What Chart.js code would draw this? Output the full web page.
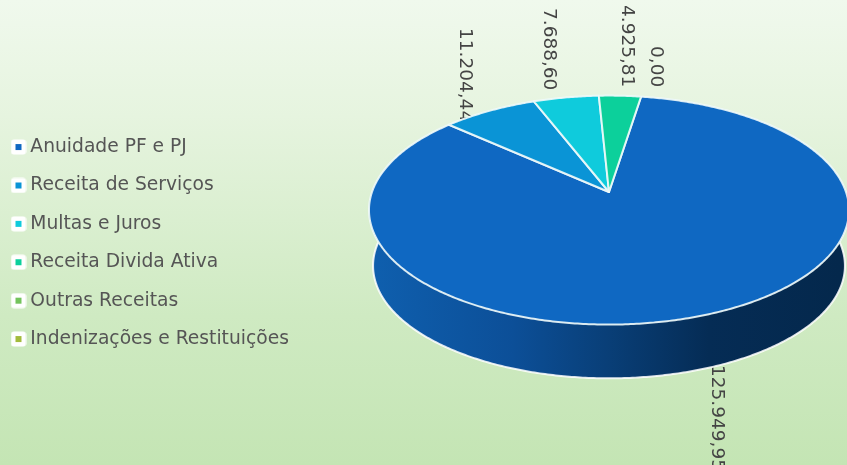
<!DOCTYPE html>
<html>
<head>
<meta charset="utf-8">
<script src="https://cdn.jsdelivr.net/npm/chart.js@4"></script>
<style>
  html, body { margin: 0; padding: 0; }
  body { width: 847px; height: 465px; overflow: hidden; background: linear-gradient(180deg, #f0f9ed 0%, #e6f4df 25%, #cfeac2 68%, #c4e5b4 100%); }
  #wrap { position: relative; width: 847px; height: 465px; }
</style>
</head>
<body>
<div id="wrap"><canvas id="pieChart"></canvas></div>
<script>
const categories = ['Anuidade PF e PJ', 'Receita de Serviços', 'Multas e Juros', 'Receita Divida Ativa', 'Outras Receitas', 'Indenizações e Restituições'];
const receitas = [125949.95, 11204.44, 7688.60, 4925.81, 0, 0];
const valueLabels = ['125.949,95', '11.204,44', '7.688,60', '4.925,81', '0,00'];
const sliceColors = ['#0f68c2', '#0a94d6', '#0fcbdc', '#0cd09b', '#73c35c', '#a3bb3c'];

// perspective of the top face
const persp = 0.158;
const tilt = 0.471;
const depth = 56;
const bottomScale = 0.983;

function project(arc, a, down, scale) {
  const k = 1 - persp * Math.sin(a);
  const r = arc.outerRadius * scale;
  return {
    x: arc.x + r * Math.cos(a) / k,
    y: arc.y + down + r * tilt * Math.sin(a) / k
  };
}

function traceRim(ctx, arc, from, to, down, scale) {
  const steps = Math.max(2, Math.ceil(Math.abs(to - from) / 0.01));
  for (let i = 0; i <= steps; i++) {
    const p = project(arc, from + (to - from) * i / steps, down, scale);
    ctx.lineTo(p.x, p.y);
  }
}

// legend marker: white rounded box with the colour in the middle
function legendBox(color) {
  const c = document.createElement('canvas');
  c.width = 16; c.height = 16;
  const g = c.getContext('2d');
  g.fillStyle = '#fff';
  g.beginPath();
  g.roundRect(0.5, 0.5, 15, 15, 3);
  g.fill();
  g.fillStyle = color;
  g.fillRect(5, 5, 6, 6);
  return c;
}

// where each value label starts
const labelSpots = [[717, 365], [465, 28], [549, 8], [627, 5], [656, 46]];

const pie3d = {
  id: 'pie3d',
  afterLayout(chart) {
    chart.legend.left = -3.7;
    chart.legend.right = 320;
    chart.legend.top = 118;
    chart.legend.bottom = 440;
  },
  beforeDatasetsDraw(chart) {
    const ctx = chart.ctx;
    const arcs = chart.getDatasetMeta(0).data;
    const first = arcs[0];
    ctx.save();

    // value labels, rotated, the pie covers them where they meet
    ctx.fillStyle = '#444';
    ctx.font = '18.5px "DejaVu Sans"';
    ctx.textBaseline = 'middle';
    labelSpots.forEach((s, i) => {
      ctx.save();
      ctx.translate(s[0], s[1]);
      ctx.rotate(Math.PI / 2);
      ctx.textAlign = 'left';
      ctx.fillText(valueLabels[i], 0, 0);
      ctx.restore();
    });

    // side wall
    const grad = ctx.createLinearGradient(372, 0, 840, 0);
    grad.addColorStop(0, '#0f5fae');
    grad.addColorStop(0.3, '#0c4f98');
    grad.addColorStop(0.5, '#093f78');
    grad.addColorStop(0.72, '#052c55');
    grad.addColorStop(1, '#04284c');
    ctx.beginPath();
    traceRim(ctx, first, -0.05, Math.PI + 0.05, 0, 1);
    traceRim(ctx, first, Math.PI + 0.05, -0.05, depth, bottomScale);
    ctx.closePath();
    ctx.fillStyle = grad;
    ctx.fill();
    ctx.strokeStyle = 'rgba(255,255,255,0.85)';
    ctx.lineWidth = 2;
    ctx.beginPath();
    traceRim(ctx, first, -0.05, Math.PI + 0.05, depth, bottomScale);
    ctx.stroke();

    // top face, one wedge per arc
    arcs.forEach((arc, i) => {
      if (arc.endAngle - arc.startAngle < 0.0001) return;
      ctx.beginPath();
      ctx.moveTo(arc.x, arc.y);
      traceRim(ctx, arc, arc.startAngle, arc.endAngle, 0, 1);
      ctx.closePath();
      ctx.fillStyle = sliceColors[i];
      ctx.fill();
      ctx.strokeStyle = 'rgba(240,250,250,0.9)';
      ctx.lineWidth = 2;
      ctx.lineJoin = 'round';
      ctx.stroke();
    });
    ctx.restore();
    return false;
  }
};

new Chart(document.getElementById('pieChart'), {
  type: 'pie',
  data: {
    labels: categories,
    datasets: [{ data: receitas, backgroundColor: sliceColors, borderWidth: 0 }]
  },
  options: {
    responsive: true,
    maintainAspectRatio: false,
    animation: false,
    rotation: 9,
    radius: 237,
    layout: { padding: { left: 371, right: 0, top: 0, bottom: 81 } },
    plugins: {
      tooltip: { enabled: false },
      title: { display: false },
      legend: {
        position: 'chartArea',
        align: 'start',
        labels: {
          usePointStyle: true,
          pointStyleWidth: 5,
          color: '#555',
          font: { family: '"DejaVu Sans"', size: 18.7 },
          padding: 19.7,
          generateLabels: () => categories.map((name, i) => ({
            text: name,
            pointStyle: legendBox(sliceColors[i]),
            fontColor: '#555',
            lineWidth: 0
          }))
        }
      }
    }
  },
  plugins: [pie3d]
});
</script>
</body>
</html>
